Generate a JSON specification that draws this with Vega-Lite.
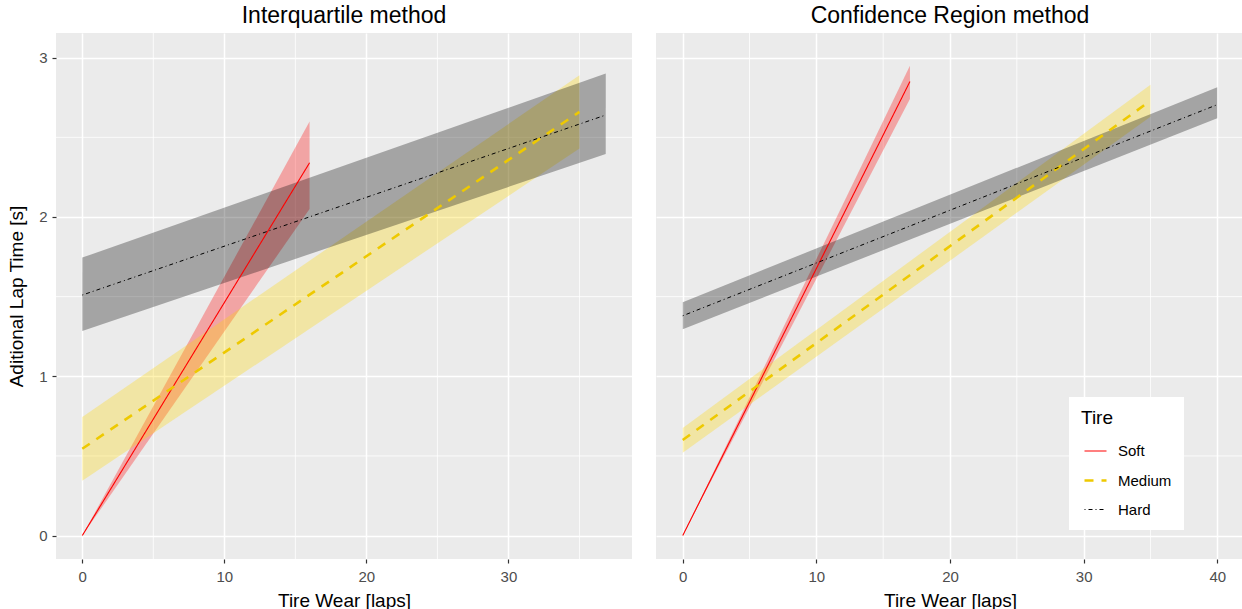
{
  "$schema": "https://vega.github.io/schema/vega-lite/v6.json",
  "background": "white",
  "padding": {"left": 7, "top": 4, "right": 0, "bottom": 0},
  "config": {
    "font": "Liberation Sans",
    "view": {"fill": "#EBEBEB", "stroke": null},
    "concat": {"spacing": 22},
    "title": {"font": "Liberation Sans", "fontSize": 23, "fontWeight": "normal", "color": "black", "anchor": "middle", "offset": 5},
    "axis": {
      "labelFont": "Liberation Sans", "labelFontSize": 15, "labelColor": "#4D4D4D",
      "titleFont": "Liberation Sans", "titleFontSize": 19, "titleFontWeight": "normal", "titleColor": "black",
      "tickColor": "#333333", "tickSize": 4, "tickWidth": 1.2, "domain": false,
      "gridColor": "white", "gridWidth": 1.5, "labelPadding": 5
    },
    "legend": {
      "fillColor": "white", "padding": 12,
      "titleFont": "Liberation Sans", "titleFontSize": 19, "titleFontWeight": "normal", "titleColor": "black",
      "labelFont": "Liberation Sans", "labelFontSize": 15, "labelColor": "black",
      "symbolType": "stroke", "symbolSize": 484, "rowPadding": 9, "labelOffset": 10, "titlePadding": 11, "symbolOffset": 2
    }
  },
  "datasets": {
    "fits": [
      {"method": "Interquartile method", "Tire": "Soft", "wear": 0, "fit": 0, "lo": 0, "hi": 0},
      {"method": "Interquartile method", "Tire": "Soft", "wear": 16, "fit": 2.34, "lo": 2.05, "hi": 2.6},
      {"method": "Interquartile method", "Tire": "Medium", "wear": 0, "fit": 0.545, "lo": 0.345, "hi": 0.745},
      {"method": "Interquartile method", "Tire": "Medium", "wear": 35, "fit": 2.66, "lo": 2.43, "hi": 2.89},
      {"method": "Interquartile method", "Tire": "Hard", "wear": 0, "fit": 1.51, "lo": 1.285, "hi": 1.745},
      {"method": "Interquartile method", "Tire": "Hard", "wear": 36.85, "fit": 2.64, "lo": 2.395, "hi": 2.9},
      {"method": "Confidence Region method", "Tire": "Soft", "wear": 0, "fit": 0, "lo": 0, "hi": 0},
      {"method": "Confidence Region method", "Tire": "Soft", "wear": 17, "fit": 2.85, "lo": 2.74, "hi": 2.95},
      {"method": "Confidence Region method", "Tire": "Medium", "wear": 0, "fit": 0.6, "lo": 0.52, "hi": 0.676},
      {"method": "Confidence Region method", "Tire": "Medium", "wear": 35, "fit": 2.73, "lo": 2.63, "hi": 2.83},
      {"method": "Confidence Region method", "Tire": "Hard", "wear": 0, "fit": 1.38, "lo": 1.295, "hi": 1.465},
      {"method": "Confidence Region method", "Tire": "Hard", "wear": 40, "fit": 2.705, "lo": 2.62, "hi": 2.815}
    ],
    "minorY": [{"v": 0.5}, {"v": 1.5}, {"v": 2.5}],
    "minorX": [{"v": 5}, {"v": 15}, {"v": 25}, {"v": 35}]
  },
  "hconcat": [
    {
      "title": "Interquartile method",
      "width": 576,
      "height": 526,
      "layer": [
        {
          "data": {"name": "minorY"},
          "mark": {"type": "rule", "color": "white", "strokeWidth": 0.8},
          "encoding": {"y": {"field": "v", "type": "quantitative", "scale": {"domain": [-0.147, 3.155], "nice": false, "zero": false}, "axis": {"title": "Aditional Lap Time [s]", "values": [0, 1, 2, 3], "format": "d", "titlePadding": 12}}}
        },
        {
          "data": {"name": "minorX"},
          "mark": {"type": "rule", "color": "white", "strokeWidth": 0.8},
          "encoding": {"x": {"field": "v", "type": "quantitative", "scale": {"domain": [-1.85, 38.7], "nice": false, "zero": false}, "axis": {"title": "Tire Wear [laps]", "values": [0, 10, 20, 30], "labelPadding": 6, "titlePadding": 7}}}
        },
        {
          "data": {"name": "fits"},
          "transform": [{"filter": "datum.method === 'Interquartile method'"}],
          "mark": {"type": "area", "opacity": 0.3},
          "encoding": {
            "x": {"field": "wear", "type": "quantitative"},
            "y": {"field": "lo", "type": "quantitative"},
            "y2": {"field": "hi"},
            "fill": {"field": "Tire", "type": "nominal", "scale": {"domain": ["Soft", "Medium", "Hard"], "range": ["#FF0000", "#FFD700", "#000000"]}, "legend": null}
          }
        },
        {
          "data": {"name": "fits"},
          "transform": [{"filter": "datum.method === 'Interquartile method'"}],
          "mark": {"type": "line"},
          "encoding": {
            "x": {"field": "wear", "type": "quantitative"},
            "y": {"field": "fit", "type": "quantitative"},
            "color": {"field": "Tire", "type": "nominal", "scale": {"domain": ["Soft", "Medium", "Hard"], "range": ["#FF0000", "#EEC900", "#000000"]}, "legend": null},
            "strokeDash": {"field": "Tire", "type": "nominal", "scale": {"domain": ["Soft", "Medium", "Hard"], "range": [[1, 0], [9, 8], [1, 3, 4, 3]]}, "legend": null},
            "strokeWidth": {"field": "Tire", "type": "nominal", "scale": {"type": "ordinal", "domain": ["Soft", "Medium", "Hard"], "range": [1.1, 2.6, 1]}, "legend": null}
          }
        }
      ]
    },
    {
      "title": "Confidence Region method",
      "width": 588,
      "height": 526,
      "layer": [
        {
          "data": {"name": "minorY"},
          "mark": {"type": "rule", "color": "white", "strokeWidth": 0.8},
          "encoding": {"y": {"field": "v", "type": "quantitative", "scale": {"domain": [-0.147, 3.155], "nice": false, "zero": false}, "axis": {"title": null, "labels": false, "ticks": false, "values": [0, 1, 2, 3]}}}
        },
        {
          "data": {"name": "minorX"},
          "mark": {"type": "rule", "color": "white", "strokeWidth": 0.8},
          "encoding": {"x": {"field": "v", "type": "quantitative", "scale": {"domain": [-2, 42], "nice": false, "zero": false}, "axis": {"title": "Tire Wear [laps]", "values": [0, 10, 20, 30, 40], "labelPadding": 6, "titlePadding": 7}}}
        },
        {
          "data": {"name": "fits"},
          "transform": [{"filter": "datum.method === 'Confidence Region method'"}],
          "mark": {"type": "area", "opacity": 0.3},
          "encoding": {
            "x": {"field": "wear", "type": "quantitative"},
            "y": {"field": "lo", "type": "quantitative"},
            "y2": {"field": "hi"},
            "fill": {"field": "Tire", "type": "nominal", "scale": {"domain": ["Soft", "Medium", "Hard"], "range": ["#FF0000", "#FFD700", "#000000"]}, "legend": null}
          }
        },
        {
          "data": {"name": "fits"},
          "transform": [{"filter": "datum.method === 'Confidence Region method'"}],
          "mark": {"type": "line"},
          "encoding": {
            "x": {"field": "wear", "type": "quantitative"},
            "y": {"field": "fit", "type": "quantitative"},
            "color": {"field": "Tire", "type": "nominal", "scale": {"domain": ["Soft", "Medium", "Hard"], "range": ["#FF0000", "#EEC900", "#000000"]}, "legend": {"title": "Tire", "orient": "none", "legendX": 413, "legendY": 364}},
            "strokeDash": {"field": "Tire", "type": "nominal", "scale": {"domain": ["Soft", "Medium", "Hard"], "range": [[1, 0], [9, 8], [1, 3, 4, 3]]}, "legend": {"title": "Tire", "orient": "none", "legendX": 413, "legendY": 364}},
            "strokeWidth": {"field": "Tire", "type": "nominal", "scale": {"type": "ordinal", "domain": ["Soft", "Medium", "Hard"], "range": [1.1, 2.6, 1]}, "legend": {"title": "Tire", "orient": "none", "legendX": 413, "legendY": 364}}
          }
        }
      ]
    }
  ],
  "resolve": {
    "scale": {"x": "independent", "y": "shared", "color": "shared", "fill": "shared", "strokeDash": "shared", "strokeWidth": "shared"},
    "legend": {"color": "independent", "strokeDash": "independent", "strokeWidth": "independent"}
  }
}
